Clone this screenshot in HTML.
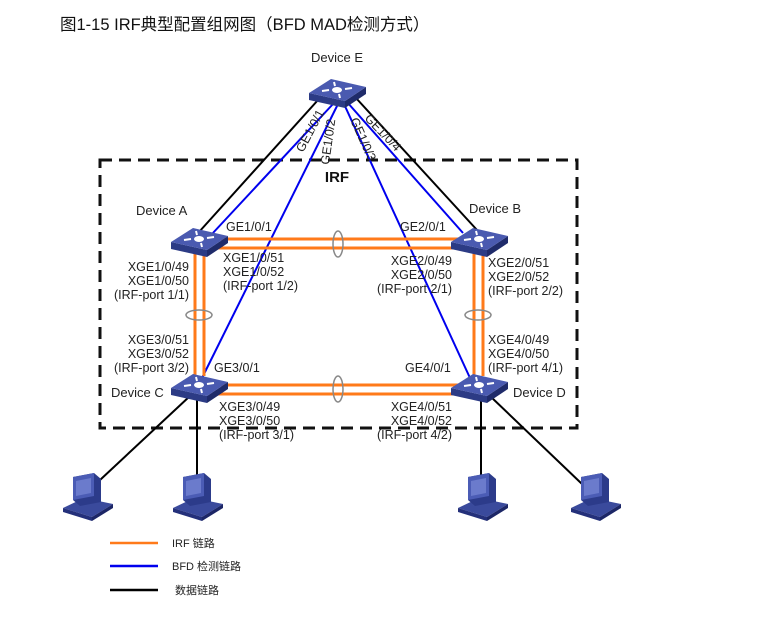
<!DOCTYPE html>
<html><head><meta charset="utf-8"><style>
body{margin:0;background:#fff;width:768px;height:625px;overflow:hidden}
svg text{font-family:"Liberation Sans","Noto Sans CJK SC",sans-serif;fill:#222}
</style></head><body>
<svg width="768" height="625" xmlns="http://www.w3.org/2000/svg">
<defs>
<g id="sw">
<polygon points="-28,-1 8,7 8,14 -28,6" fill="#2c3b85"/>
<polygon points="8,7 29,-7 29,0 8,14" fill="#1f2b6a"/>
<polygon points="-28,-1 -6,-15 29,-7 8,7" fill="#4a5ab0"/>
<ellipse cx="0" cy="-4" rx="5" ry="3" fill="#fff"/>
<path d="M-15,-3 L-8,-4 M8,-5 L15,-6 M-3,-12 L-2,-8 M2,0 L3,4" stroke="#fff" stroke-width="2"/>
</g>
<g id="pc">
<polygon points="-23,18 6,27 27,14 -2,8" fill="#3a4a9c"/>
<polygon points="-23,18 6,27 6,31 -23,22" fill="#24307a"/>
<polygon points="6,27 27,14 27,18 6,31" fill="#1c2666"/>
<polygon points="-13,-13 8,-17 15,-11 15,12 -6,16 -13,10" fill="#2c3b8a"/>
<polygon points="-13,-13 8,-17 8,6 -13,10" fill="#4b5cb5"/>
<polygon points="-10,-9 5,-12 5,3 -10,6" fill="#6b7bcc"/>
</g>
</defs>
<text x="60" y="30" font-size="16.5" style="fill:#111">图1-15 IRF典型配置组网图（BFD MAD检测方式）</text>
<rect x="100" y="160" width="477" height="268" fill="none" stroke="#111" stroke-width="3" stroke-dasharray="12,7"/>
<text x="337" y="182" font-size="15" font-weight="bold" text-anchor="middle" style="fill:#111">IRF</text>
<g stroke-width="2" fill="none">
<line x1="318" y1="100" x2="199" y2="232" stroke="#000"/>
<line x1="356" y1="98" x2="477" y2="230" stroke="#000"/>
<line x1="333" y1="104" x2="212" y2="234" stroke="#0000ee"/>
<line x1="338" y1="104" x2="202" y2="378" stroke="#0000ee"/>
<line x1="344" y1="104" x2="470" y2="378" stroke="#0000ee"/>
<line x1="347" y1="102" x2="463" y2="233" stroke="#0000ee"/>
<line x1="190" y1="396" x2="100" y2="480" stroke="#000"/>
<line x1="197" y1="396" x2="197" y2="475" stroke="#000"/>
<line x1="481" y1="396" x2="481" y2="475" stroke="#000"/>
<line x1="490" y1="396" x2="582" y2="484" stroke="#000"/>
</g>
<g stroke="#ff7a1a" stroke-width="3" fill="none">
<line x1="214" y1="239" x2="466" y2="239"/><line x1="214" y1="248" x2="466" y2="248"/>
<line x1="214" y1="385" x2="466" y2="385"/><line x1="214" y1="394" x2="466" y2="394"/>
<line x1="195" y1="252" x2="195" y2="376"/><line x1="204" y1="252" x2="204" y2="376"/>
<line x1="474" y1="252" x2="474" y2="376"/><line x1="483" y1="252" x2="483" y2="376"/>
</g>
<g stroke="#888" stroke-width="1.5" fill="none">
<ellipse cx="338" cy="244" rx="5" ry="13"/>
<ellipse cx="338" cy="389" rx="5" ry="13"/>
<ellipse cx="199" cy="315" rx="13" ry="5"/>
<ellipse cx="478" cy="315" rx="13" ry="5"/>
</g>
<use href="#sw" x="337" y="94"/>
<use href="#sw" x="199" y="243"/>
<use href="#sw" x="479" y="243"/>
<use href="#sw" x="199" y="389"/>
<use href="#sw" x="479" y="389"/>
<use href="#pc" x="86" y="490"/>
<use href="#pc" x="196" y="490"/>
<use href="#pc" x="481" y="490"/>
<use href="#pc" x="594" y="490"/>
<g font-size="13">
<text x="337" y="62" text-anchor="middle">Device E</text>
<text x="136" y="215">Device A</text>
<text x="469" y="213">Device B</text>
<text x="111" y="397">Device C</text>
<text x="513" y="397">Device D</text>
</g>
<g font-size="12.5">
<text x="226" y="231">GE1/0/1</text>
<text x="400" y="231">GE2/0/1</text>
<text x="214" y="372">GE3/0/1</text>
<text x="405" y="372">GE4/0/1</text>
<g text-anchor="end">
<text x="189" y="271">XGE1/0/49</text><text x="189" y="285">XGE1/0/50</text><text x="189" y="299">(IRF-port 1/1)</text>
<text x="189" y="344">XGE3/0/51</text><text x="189" y="358">XGE3/0/52</text><text x="189" y="372">(IRF-port 3/2)</text>
<text x="452" y="265">XGE2/0/49</text><text x="452" y="279">XGE2/0/50</text><text x="452" y="293">(IRF-port 2/1)</text>
<text x="452" y="411">XGE4/0/51</text><text x="452" y="425">XGE4/0/52</text><text x="452" y="439">(IRF-port 4/2)</text>
</g>
<text x="223" y="262">XGE1/0/51</text><text x="223" y="276">XGE1/0/52</text><text x="223" y="290">(IRF-port 1/2)</text>
<text x="488" y="267">XGE2/0/51</text><text x="488" y="281">XGE2/0/52</text><text x="488" y="295">(IRF-port 2/2)</text>
<text x="488" y="344">XGE4/0/49</text><text x="488" y="358">XGE4/0/50</text><text x="488" y="372">(IRF-port 4/1)</text>
<text x="219" y="411">XGE3/0/49</text><text x="219" y="425">XGE3/0/50</text><text x="219" y="439">(IRF-port 3/1)</text>
<text transform="translate(303,153) rotate(-62)">GE1/0/1</text>
<text transform="translate(329,165) rotate(-82)">GE1/0/2</text>
<text transform="translate(350,120) rotate(66)">GE1/0/3</text>
<text transform="translate(364,119) rotate(46)">GE1/0/4</text>
</g>
<line x1="110" y1="543" x2="158" y2="543" stroke="#ff7a1a" stroke-width="2.5"/>
<line x1="110" y1="566" x2="158" y2="566" stroke="#0000ee" stroke-width="2.5"/>
<line x1="110" y1="590" x2="158" y2="590" stroke="#000" stroke-width="2.5"/>
<g font-size="11">
<text x="172" y="547">IRF 链路</text>
<text x="172" y="570">BFD 检测链路</text>
<text x="175" y="594">数据链路</text>
</g>
</svg>
</body></html>
